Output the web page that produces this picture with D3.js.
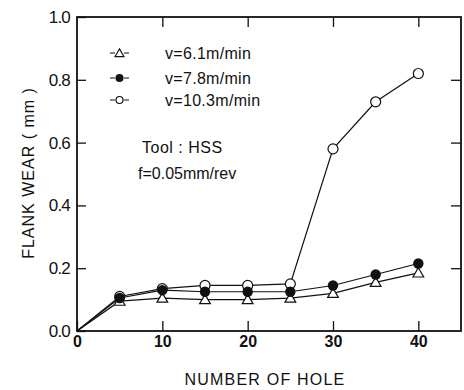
<!DOCTYPE html>
<html>
<head>
<meta charset="utf-8">
<script src="https://cdn.jsdelivr.net/npm/d3@7"></script>
<style>
  body { margin: 0; background: #fff; }
  svg { display: block; font-family: "Liberation Sans", Arial, sans-serif; }
</style>
</head>
<body>
<svg id="chart" width="464" height="390"></svg>
<script>
const holes = [0, 5, 10, 15, 20, 25, 30, 35, 40];
const wear61 = [0, 0.095, 0.105, 0.10, 0.10, 0.105, 0.12, 0.155, 0.185];
const wear78 = [0, 0.105, 0.13, 0.125, 0.125, 0.125, 0.145, 0.18, 0.215];
const wear103 = [0, 0.11, 0.135, 0.145, 0.145, 0.15, 0.58, 0.73, 0.82];
const legendLabels = ["v=6.1m/min", "v=7.8m/min", "v=10.3m/min"];
const xTicks = [0, 10, 20, 30, 40];
const yTicks = [0, 0.2, 0.4, 0.6, 0.8, 1.0];

(function () {
  const svg = d3.select("#chart");
  const left = 77, right = 461, top = 17, bottom = 331;

  const x = d3.scaleLinear().domain([0, 45]).range([left, right]);
  const y = d3.scaleLinear().domain([0, 1]).range([bottom, top]);

  // axes, ticks pointing inward
  const gy = svg.append("g").attr("transform", `translate(${left},0)`)
    .call(d3.axisLeft(y).tickValues(yTicks).tickSize(-9).tickPadding(7).tickFormat(d3.format(".1f")));
  gy.selectAll("text").attr("font-size", 17).attr("letter-spacing", -0.8).attr("fill", "#111");

  const gx = svg.append("g").attr("transform", `translate(0,${bottom})`)
    .call(d3.axisBottom(x).tickValues(xTicks).tickSize(-10).tickPadding(5).tickFormat(d3.format("d")));
  gx.selectAll("text").attr("font-size", 16).attr("font-weight", "bold").attr("fill", "#111");

  svg.append("g").attr("transform", `translate(0,${top})`)
    .call(d3.axisTop(x).tickValues(xTicks.slice(1)).tickSize(-10).tickFormat(""));

  svg.append("g").attr("transform", `translate(${right},0)`)
    .call(d3.axisRight(y).tickValues(yTicks.slice(1, 5)).tickSize(-10).tickFormat(""));

  svg.selectAll(".domain").remove();
  svg.selectAll(".tick line").attr("stroke", "#111").attr("stroke-width", 1.3);

  svg.append("rect")
    .attr("x", left).attr("y", top)
    .attr("width", right - left).attr("height", bottom - top)
    .attr("fill", "none").attr("stroke", "#111").attr("stroke-width", 1.8);

  // axis titles
  svg.append("text")
    .attr("x", (left + right) / 2 - 4).attr("y", 385)
    .attr("text-anchor", "middle").attr("font-size", 16).attr("letter-spacing", 1.2)
    .attr("fill", "#111")
    .text("NUMBER OF HOLE");

  svg.append("text")
    .attr("transform", "translate(34,173) rotate(-90)")
    .attr("text-anchor", "middle").attr("font-size", 16).attr("letter-spacing", 1)
    .attr("fill", "#111")
    .text("FLANK WEAR ( mm )");

  const line = d3.line().x((d, i) => x(holes[i])).y(d => y(d));
  [wear103, wear78, wear61].forEach(s => {
    svg.append("path").datum(s).attr("d", line)
      .attr("fill", "none").attr("stroke", "#111").attr("stroke-width", 1.2);
  });

  function openCircle(g, cx, cy, r) {
    g.append("circle").attr("cx", cx).attr("cy", cy).attr("r", r)
      .attr("fill", "#fff").attr("stroke", "#111").attr("stroke-width", 1.2);
  }
  function filledCircle(g, cx, cy, r) {
    g.append("circle").attr("cx", cx).attr("cy", cy).attr("r", r).attr("fill", "#111");
  }
  function triangle(g, cx, cy, size) {
    g.append("path").attr("d", d3.symbol().type(d3.symbolTriangle).size(size)())
      .attr("transform", `translate(${cx},${cy + 1})`)
      .attr("fill", "#fff").attr("stroke", "#111").attr("stroke-width", 1.2);
  }

  const marks = svg.append("g");
  wear103.forEach((v, i) => { if (i > 0) openCircle(marks, x(holes[i]), y(v), 5); });
  wear61.forEach((v, i) => { if (i > 0) triangle(marks, x(holes[i]), y(v), 50); });
  wear78.forEach((v, i) => { if (i > 0) filledCircle(marks, x(holes[i]), y(v), 5.2); });

  // legend
  const legY = [53, 78, 100];
  const lg = svg.append("g");
  legY.forEach((ly, i) => {
    lg.append("line").attr("x1", 110).attr("x2", 115).attr("y1", ly).attr("y2", ly)
      .attr("stroke", "#111").attr("stroke-width", 1);
    lg.append("line").attr("x1", 124).attr("x2", 129).attr("y1", ly).attr("y2", ly)
      .attr("stroke", "#111").attr("stroke-width", 1);
    if (i === 0) triangle(lg, 119.5, ly, 34);
    if (i === 1) filledCircle(lg, 119.5, ly, 4);
    if (i === 2) openCircle(lg, 119.5, ly, 3.5);
    lg.append("text").attr("x", 165).attr("y", ly + 6)
      .attr("font-size", 16).attr("letter-spacing", 0.3).attr("fill", "#111")
      .text(legendLabels[i]);
  });

  svg.append("text").attr("x", 142).attr("y", 153)
    .attr("font-size", 16).attr("letter-spacing", 0.5).attr("fill", "#111")
    .text("Tool : HSS");
  svg.append("text").attr("x", 138).attr("y", 179)
    .attr("font-size", 16).attr("fill", "#111")
    .text("f=0.05mm/rev");
})();
</script>
</body>
</html>
